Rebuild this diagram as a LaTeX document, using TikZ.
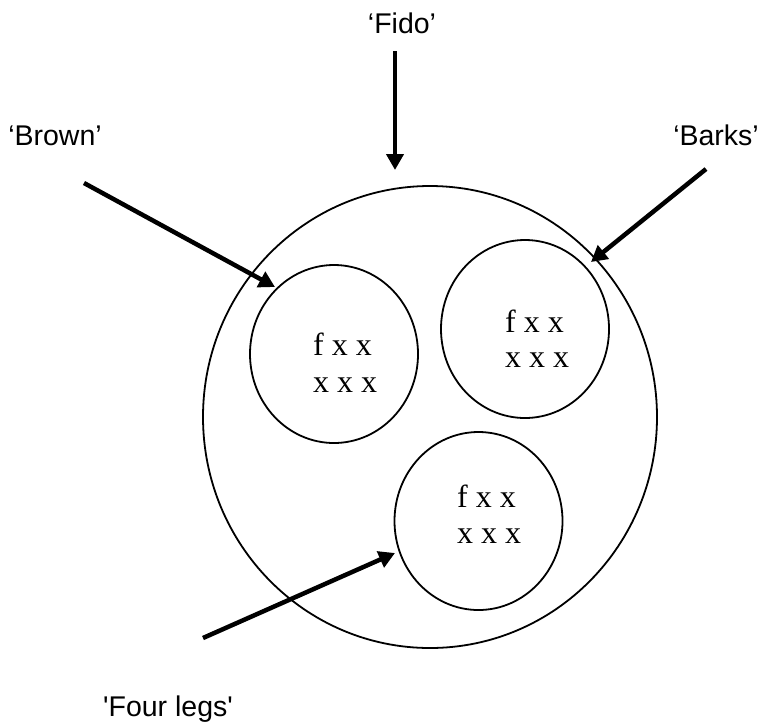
\documentclass[tikz,border=0pt]{standalone}
\usepackage{fontspec}
\setmainfont{Liberation Serif}
\newfontfamily\labfont{Liberation Sans}[Ligatures=TeXOff]
\usetikzlibrary{arrows.meta,shapes.geometric}
\begin{document}
\begin{tikzpicture}[x=1pt,y=-1pt,
  ring/.style={draw, line width=1.8pt, ellipse, inner sep=0pt},
  bigring/.style={ring, minimum width=454pt, minimum height=462pt},
  smallring/.style={ring, minimum width=168pt, minimum height=178pt},
  xs/.style={inner sep=0pt, anchor=base west, font=\fontsize{32}{37}\selectfont},
  lab/.style={inner sep=0pt, anchor=base, font=\labfont\fontsize{28.5}{34}\selectfont},
  arr/.style={line width=4.5pt, -{Triangle[length=16pt,width=17pt]}}]
\useasboundingbox (0,0) rectangle (765,724);
\node[bigring] (outer) at (430,417) {};
\node[smallring] (c1) at (334,354) {};
\node[smallring] (c2) at (525,329) {};
\node[smallring] (c3) at (478.5,521) {};
\node[xs] (t1a) at (313,355) {f x x};
\node[xs] (t1b) at (313,392) {x x x};
\node[xs] (t2a) at (505,332) {f x x};
\node[xs] (t2b) at (505,367) {x x x};
\node[xs] (t3a) at (457,507) {f x x};
\node[xs] (t3b) at (457,543) {x x x};
\node[lab] (fido) at (402,33) {‘Fido’};
\node[lab] (brown) at (55,145) {‘Brown’};
\node[lab] (barks) at (716,145) {‘Barks’};
\node[lab] (legs) at (168,716) {'Four legs'};
\coordinate (fidoS) at (395,51);
\coordinate (fidoE) at (395,170);
\coordinate (brownS) at (84,183);
\coordinate (brownE) at (275,287);
\coordinate (barksS) at (706,169);
\coordinate (barksE) at (591,262);
\coordinate (legsS) at (203,638);
\coordinate (legsE) at (395,553);
\draw[arr] (fidoS) -- (fidoE);
\draw[arr] (brownS) -- (brownE);
\draw[arr] (barksS) -- (barksE);
\draw[arr] (legsS) -- (legsE);
\end{tikzpicture}
\end{document}
